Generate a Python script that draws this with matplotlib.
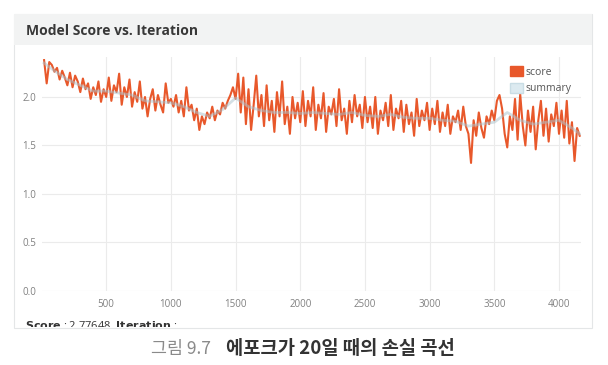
import numpy as np
import matplotlib
matplotlib.use("Agg")
import matplotlib.pyplot as plt
from matplotlib.patches import Rectangle
from matplotlib.transforms import Bbox, TransformedBbox

# score every 20 iterations
score = [
    2.38, 2.14, 2.36, 2.33, 2.26, 2.30, 2.18, 2.27, 2.20, 2.12, 2.25, 2.10, 2.22, 2.16, 2.05, 2.19, 2.08, 2.14, 1.98, 2.10, 2.02, 2.16, 1.95, 2.08, 2.00,
    2.20, 1.96, 2.12, 2.05, 2.24, 1.92, 2.10, 2.00, 2.18, 1.90, 2.05, 1.95, 2.16, 1.88, 2.00, 1.80, 1.98, 2.08, 1.86, 2.02, 1.92, 1.84, 2.14, 1.94, 1.98,
    1.90, 2.02, 1.84, 1.96, 1.80, 2.10, 1.86, 1.92, 1.76, 1.88, 1.66, 1.80, 1.72, 1.84, 1.78, 1.90, 1.76, 1.86, 1.82, 1.94, 1.88, 1.96, 2.02, 2.10, 1.98,
    2.24, 1.84, 2.20, 1.72, 2.08, 1.66, 1.92, 2.22, 1.80, 2.02, 1.70, 2.12, 1.76, 1.96, 1.64, 2.05, 1.80, 2.16, 1.72, 1.90, 1.62, 2.00, 1.78, 1.94, 1.74,
    2.06, 1.70, 1.96, 1.80, 2.10, 1.66, 1.92, 1.78, 2.04, 1.64, 1.90, 1.82, 1.98, 1.70, 2.08, 1.76, 1.88, 1.62, 1.96, 1.74, 2.02, 1.80, 1.92, 1.68, 2.00,
    1.74, 1.90, 1.68, 2.00, 1.62, 1.86, 1.76, 1.94, 1.70, 2.02, 1.66, 1.88, 1.78, 1.96, 1.64, 1.92, 1.72, 1.84, 1.60, 1.98, 1.70, 1.86, 1.76, 1.94, 1.66,
    1.88, 1.72, 1.96, 1.64, 1.84, 1.70, 1.92, 1.62, 1.80, 1.74, 1.86, 1.66, 1.90, 1.70, 1.62, 1.32, 1.76, 1.60, 1.84, 1.68, 1.58, 1.80, 1.72, 1.86, 1.76,
    1.96, 2.02, 1.88, 1.62, 1.48, 1.80, 1.66, 1.98, 1.56, 2.03, 1.70, 1.50, 1.86, 1.64, 1.90, 1.46, 1.76, 1.96, 1.60, 1.88, 1.54, 1.82, 1.70, 1.94, 1.62,
    1.86, 1.58, 1.96, 1.52, 1.74, 1.34, 1.68, 1.60,
]
score_iter = np.arange(1, len(score) + 1) * 20

summary_iter = [20, 100, 200, 300, 400, 500, 600, 700, 800, 900, 1000, 1100, 1200, 1300, 1400, 1500,
                1600, 1700, 1800, 1900, 2000, 2100, 2200, 2300, 2400, 2500, 2600, 2700, 2800, 2900,
                3000, 3100, 3200, 3300, 3400, 3500, 3600, 3700, 3800, 3900, 4000, 4100, 4160]
summary = [2.35, 2.27, 2.18, 2.12, 2.06, 2.06, 2.04, 2.02, 1.96, 1.95, 1.94, 1.90, 1.84, 1.80, 1.87, 1.99,
           1.90, 1.86, 1.84, 1.84, 1.83, 1.84, 1.83, 1.82, 1.84, 1.81, 1.80, 1.82, 1.79, 1.78,
           1.78, 1.76, 1.75, 1.70, 1.72, 1.74, 1.84, 1.76, 1.72, 1.74, 1.76, 1.68, 1.62]

x_ticks = [500, 1000, 1500, 2000, 2500, 3000, 3500, 4000]
y_ticks = [0.0, 0.5, 1.0, 1.5, 2.0]

plt.rcParams['font.family'] = ['Open Sans', 'DejaVu Sans']

fig = plt.figure(figsize=(6.08, 3.65), dpi=100)
W, H = 608, 365

def fx(px):
    return px / W

def fy(py):
    return 1 - py / H

# panel + header band
panel = Rectangle((fx(14), fy(328)), fx(578), 314 / H, transform=fig.transFigure,
                  facecolor='white', edgecolor='#e4e6e7', lw=0.8, zorder=-2)
fig.patches.append(panel)
header = Rectangle((fx(14), fy(45)), fx(578), 31 / H, transform=fig.transFigure,
                   facecolor='#f2f3f3', edgecolor='none', zorder=-1)
fig.patches.append(header)
fig.text(fx(26), fy(31), 'Model Score vs. Iteration', fontsize=10, fontweight='bold',
         color='#383838', va='center', ha='left')

ax = fig.add_axes([fx(41.5), fy(291), fx(539.5), 234 / H])
ax.set_zorder(2)
ax.patch.set_alpha(0)
ax.plot(score_iter, score, color='#e8582b', lw=1.5, label='score', zorder=2)
ax.plot(summary_iter, summary, color='#a9c2cd', lw=2.0, alpha=0.5, label='summary', zorder=3)
ax.set_xlim(0, 4170)
ax.set_ylim(0, 2.412)
ax.set_xticks(x_ticks)
ax.set_yticks(y_ticks)
ax.set_yticklabels(['0.0', '0.5', '1.0', '1.5', '2.0'])
ax.grid(True, color='#ebebeb', lw=0.8)
ax.set_axisbelow(True)
for s in ax.spines.values():
    s.set_visible(False)
ax.tick_params(length=0, labelsize=7, colors='#808080')
ax.tick_params(axis='y', pad=4)
ax.tick_params(axis='x', pad=6)

# legend swatches
handles = [Rectangle((0, 0), 1, 1, facecolor='#e8582b', edgecolor='#e8582b'),
           Rectangle((0, 0), 1, 1, facecolor='#dceaf0', edgecolor='#c9dde5')]
leg = ax.legend(handles, ['score', 'summary'], loc='upper right', bbox_to_anchor=(1.0, 1.0),
                frameon=False, fontsize=7.5, handlelength=1.2, handleheight=1.1,
                handletextpad=0.3, labelspacing=0.45)
for t in leg.get_texts():
    t.set_color('#555555')

# clipped status line
clip_box = TransformedBbox(Bbox([[fx(14), fy(327)], [fx(592), fy(307)]]), fig.transFigure)
st = fig.text(fx(25), fy(326), r'$\bf{Score}$ : 2.77648, $\bf{Iteration}$ :', fontsize=8,
              color='#333333', va='center', ha='left')
st.set_clip_box(clip_box)
st.set_clip_on(True)

# caption
fig.text(fx(211), fy(349), '그림 9.7', fontsize=12.5, color='#8a8a8a', ha='right', va='center',
         family=['Noto Sans CJK KR', 'DejaVu Sans'])
fig.text(fx(226), fy(349), '에포크가 20일 때의 손실 곡선', fontsize=13.5, color='#333333',
         ha='left', va='center', fontweight='bold', family=['Noto Sans CJK KR', 'DejaVu Sans'])

fig.savefig('out.png', dpi=100)
